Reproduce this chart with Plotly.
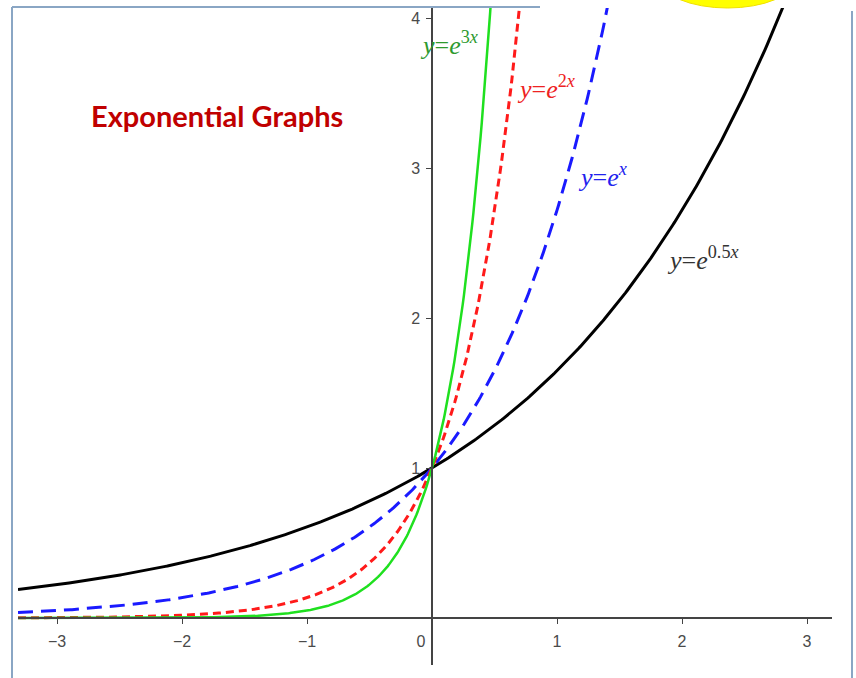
import numpy as np
import plotly.graph_objects as go

# ---- data ----
rates = [0.5, 1, 2, 3]                      # y = e^(k x)
curve_names = ["y=e^0.5x", "y=e^x", "y=e^2x", "y=e^3x"]
line_colors = ["#000000", "#1a1aff", "#ff1a1a", "#1fe01f"]
line_dashes = ["solid", "15px,8px", "8px,5px", "solid"]
line_widths = [3, 3, 3, 2.5]
label_texts = [
    "<i>y</i>=<i>e</i><sup>0.5<i>x</i></sup>",
    "<i>y</i>=<i>e</i><sup><i>x</i></sup>",
    "<i>y</i>=<i>e</i><sup>2<i>x</i></sup>",
    "<i>y</i>=<i>e</i><sup>3<i>x</i></sup>",
]
label_colors = ["#333333", "#2222ee", "#ee2222", "#2e9a2e"]
label_x = [1.86, 1.15, 0.665, -0.115]
label_y = [2.40, 2.95, 3.54, 3.83]
x_ticks = [-3, -2, -1, 0, 1, 2, 3]
x_tick_text = ["\u22123", "\u22122", "\u22121", "0\u00a0\u00a0\u00a0\u00a0\u00a0", "1", "2", "3"]
y_ticks = [1, 2, 3, 4]
title_text = "Exponential Graphs"

x_range = [-3.312, 3.2]
y_range = [-0.313, 4.067]

fig = go.Figure()
for k, name, c, d, w in zip(rates, curve_names, line_colors, line_dashes, line_widths):
    xmax = min(x_range[1], np.log(4.4) / k)
    xs = np.linspace(x_range[0], xmax, 400)
    fig.add_trace(go.Scatter(x=xs, y=np.exp(k * xs), mode="lines", name=name,
                             line=dict(color=c, dash=d, width=w), hoverinfo="skip"))

for t, c, x, y in zip(label_texts, label_colors, label_x, label_y):
    fig.add_annotation(x=x, y=y, text=t, showarrow=False, xanchor="left", yanchor="middle",
                       font=dict(family="Liberation Serif", size=26, color=c))

fig.add_annotation(x=-1.72, y=3.35, text="<b>" + title_text + "</b>", showarrow=False,
                   xanchor="center", yanchor="middle",
                   font=dict(family="Lato", size=29, color="#c00000"))

W, H = 856, 678
ml, mr, mt, mb = 18, 24, 8, 13
pw, ph = W - ml - mr, H - mt - mb

def px(p):
    return (p - ml) / pw

def py(p):
    return (H - mb - p) / ph

frame = dict(color="#8aa6c4", width=2)
fig.add_shape(type="line", xref="paper", yref="paper", x0=px(12), x1=px(12), y0=py(7), y1=py(678), line=frame)
fig.add_shape(type="line", xref="paper", yref="paper", x0=px(12), x1=px(540), y0=py(7), y1=py(7), line=frame)
fig.add_shape(type="line", xref="paper", yref="paper", x0=px(852), x1=px(852), y0=py(11), y1=py(678), line=frame)
fig.add_shape(type="circle", xref="paper", yref="paper", x0=px(660), x1=px(795), y0=py(-50), y1=py(8),
              fillcolor="#ffff00", line=dict(color="#f0e000", width=1), layer="above")

axis_font = dict(family="Liberation Sans", size=16, color="#4a4a4a")
fig.update_layout(
    width=W, height=H, margin=dict(l=ml, r=mr, t=mt, b=mb),
    paper_bgcolor="white", plot_bgcolor="white", showlegend=False,
    xaxis=dict(range=x_range, showgrid=False, zeroline=False, showline=True,
               linecolor="#444444", linewidth=1.5, anchor="free",
               position=(0 - y_range[0]) / (y_range[1] - y_range[0]),
               tickvals=x_ticks, ticktext=x_tick_text, ticks="outside", ticklen=5,
               ticklabelstandoff=4,
               tickcolor="#444444", tickfont=axis_font),
    yaxis=dict(range=y_range, showgrid=False, zeroline=False, showline=True,
               linecolor="#444444", linewidth=1.5, anchor="free",
               position=(0 - x_range[0]) / (x_range[1] - x_range[0]),
               tickvals=y_ticks, ticks="outside", ticklen=5,
               ticklabelstandoff=3,
               tickcolor="#444444", tickfont=axis_font),
)

fig.write_html("out.html", config={"displayModeBar": False},
               post_script="document.body.style.margin='0';document.body.style.overflow='hidden';")
